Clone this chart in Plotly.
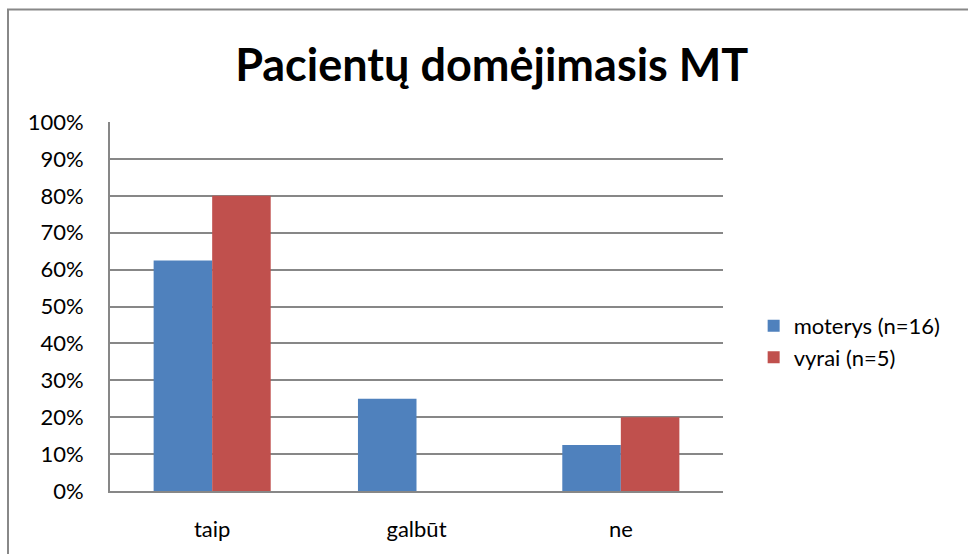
import plotly.graph_objects as go

categories = ["taip", "galbūt", "ne"]
moterys = [0.625, 0.25, 0.125]
vyrai = [0.80, 0.0, 0.20]
y_ticks = [i / 10 for i in range(11)]
y_tick_labels = [f"{i * 10}%" for i in range(11)]

FONT = "Lato"
GRID = "#878787"

fig = go.Figure()
fig.add_trace(go.Bar(x=categories, y=moterys, name="moterys (n=16)",
                     marker=dict(color="#4F81BD", line=dict(width=0))))
fig.add_trace(go.Bar(x=categories, y=vyrai, name="vyrai (n=5)",
                     marker=dict(color="#C0504D", line=dict(width=0))))

fig.update_layout(
    width=968,
    height=554,
    margin=dict(l=110, r=245, t=122, b=61),
    paper_bgcolor="white",
    plot_bgcolor="white",
    font=dict(family=FONT, size=22, color="black"),
    title=dict(text="<b>Pacientų domėjimasis MT</b>", x=0.508, xanchor="center",
               y=0.882, yanchor="middle", font=dict(family=FONT, size=45, color="black")),
    barmode="group",
    bargap=0.427,
    bargroupgap=0,
    showlegend=True,
    legend=dict(x=1.05, y=0.404, xanchor="left", yanchor="middle",
                font=dict(size=22), itemwidth=30),
    xaxis=dict(showgrid=False, showline=True, linecolor=GRID, linewidth=2,
               ticks="", ticklabelstandoff=18, tickfont=dict(size=22)),
    yaxis=dict(range=[0, 1], tickvals=y_ticks, ticktext=y_tick_labels,
               showgrid=True, gridcolor=GRID, gridwidth=2, showline=True,
               linecolor=GRID, linewidth=2, zeroline=False, ticks="",
               ticklabelstandoff=20, tickfont=dict(size=22)),
)

# outer chart frame (right and bottom edges fall outside the window)
fig.add_shape(type="rect", xref="paper", yref="paper",
              x0=(8 - 110) / 613, x1=(1000 - 110) / 613,
              y0=(493 - 590) / 371, y1=(493 - 9) / 371,
              line=dict(color="#888888", width=2), fillcolor="rgba(0,0,0,0)",
              layer="below")

fig.write_html("out.html", config={"displayModeBar": False},
               post_script="document.body.style.margin='0';")
